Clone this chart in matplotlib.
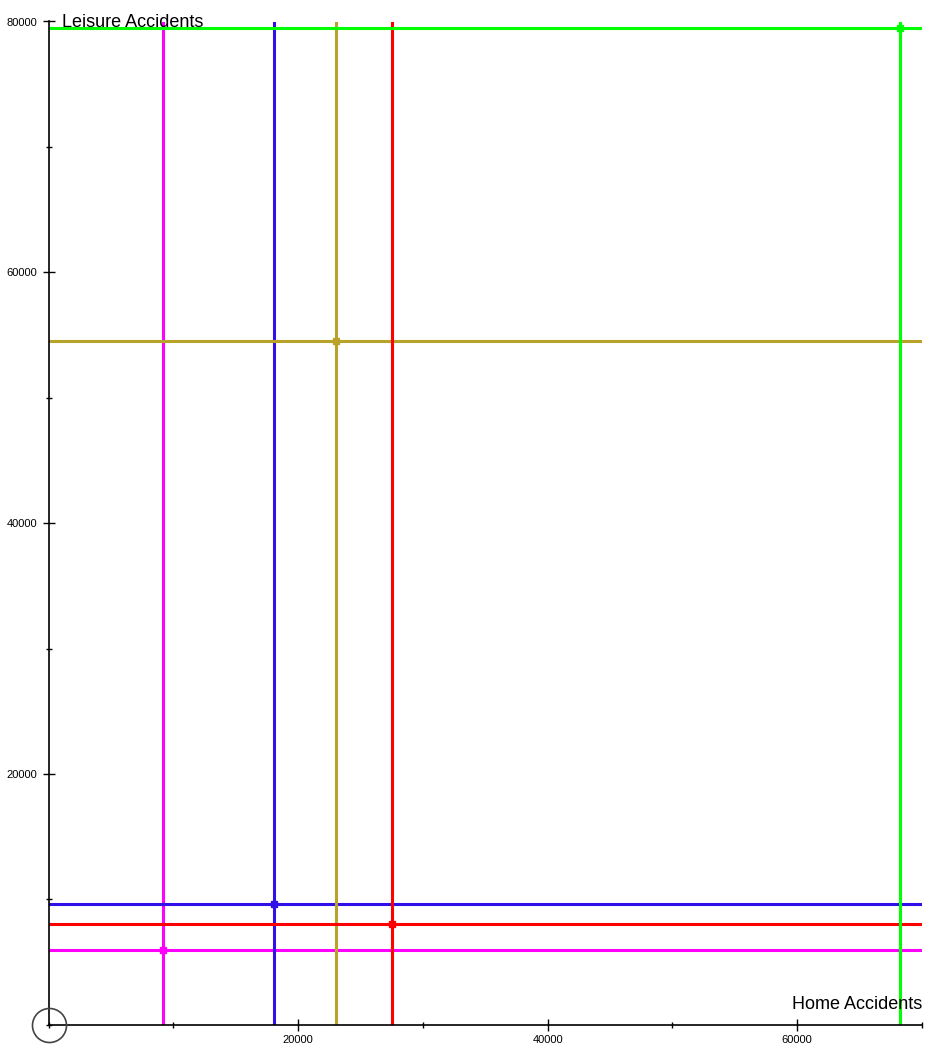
import matplotlib.pyplot as plt
from matplotlib.ticker import MultipleLocator

plt.rcParams['font.family'] = ['Liberation Sans', 'DejaVu Sans']

# values
names = ["magenta", "blue", "olive", "red", "green"]
home = [9150, 18090, 23030, 27490, 68260]
leisure = [6000, 9600, 54510, 8020, 79460]
colors = ["#ff00ff", "#3010e8", "#b8a22a", "#ff0000", "#00ff00"]

W, H = 946, 1059
fig = plt.figure(figsize=(W / 100, H / 100), dpi=100)
left, right, top, bottom = 48.5, 922, 21.5, 1024.8
ax = fig.add_axes([left / W, 1 - bottom / H, (right - left) / W, (bottom - top) / H])

ax.set_xlim(0, 70000)
ax.set_ylim(0, 80000)

for x, y, c in zip(home, leisure, colors):
    ax.axvline(x, color=c, lw=2.2, zorder=2)
    ax.axhline(y, color=c, lw=2.2, zorder=2)
    ax.plot(x, y, 's', color=c, ms=4, zorder=3)

ax.spines['top'].set_visible(False)
ax.spines['right'].set_visible(False)
for s in ('left', 'bottom'):
    ax.spines[s].set_linewidth(1.2)

ax.xaxis.set_major_locator(MultipleLocator(20000))
ax.xaxis.set_minor_locator(MultipleLocator(10000))
ax.yaxis.set_major_locator(MultipleLocator(20000))
ax.yaxis.set_minor_locator(MultipleLocator(10000))
ax.tick_params(which='major', direction='inout', length=8, width=1, labelsize=8)
ax.tick_params(axis='y', which='major', pad=4)
ax.tick_params(axis='x', which='major', pad=3)
ax.tick_params(which='minor', direction='inout', length=5, width=1)
ax.set_xticks([20000, 40000, 60000])
ax.set_yticks([20000, 40000, 60000, 80000])

ax.plot(0, 0, 'o', ms=24.5, mfc='none', mec='#444444', mew=1.2, clip_on=False, zorder=5)

fig.text(62 / W, 1 - 27.3 / H, "Leisure Accidents", fontsize=13, va='baseline', ha='left')
fig.text(922 / W, 1 - 1009 / H, "Home Accidents", fontsize=13, va='baseline', ha='right')

fig.savefig("out.png", dpi=100)
